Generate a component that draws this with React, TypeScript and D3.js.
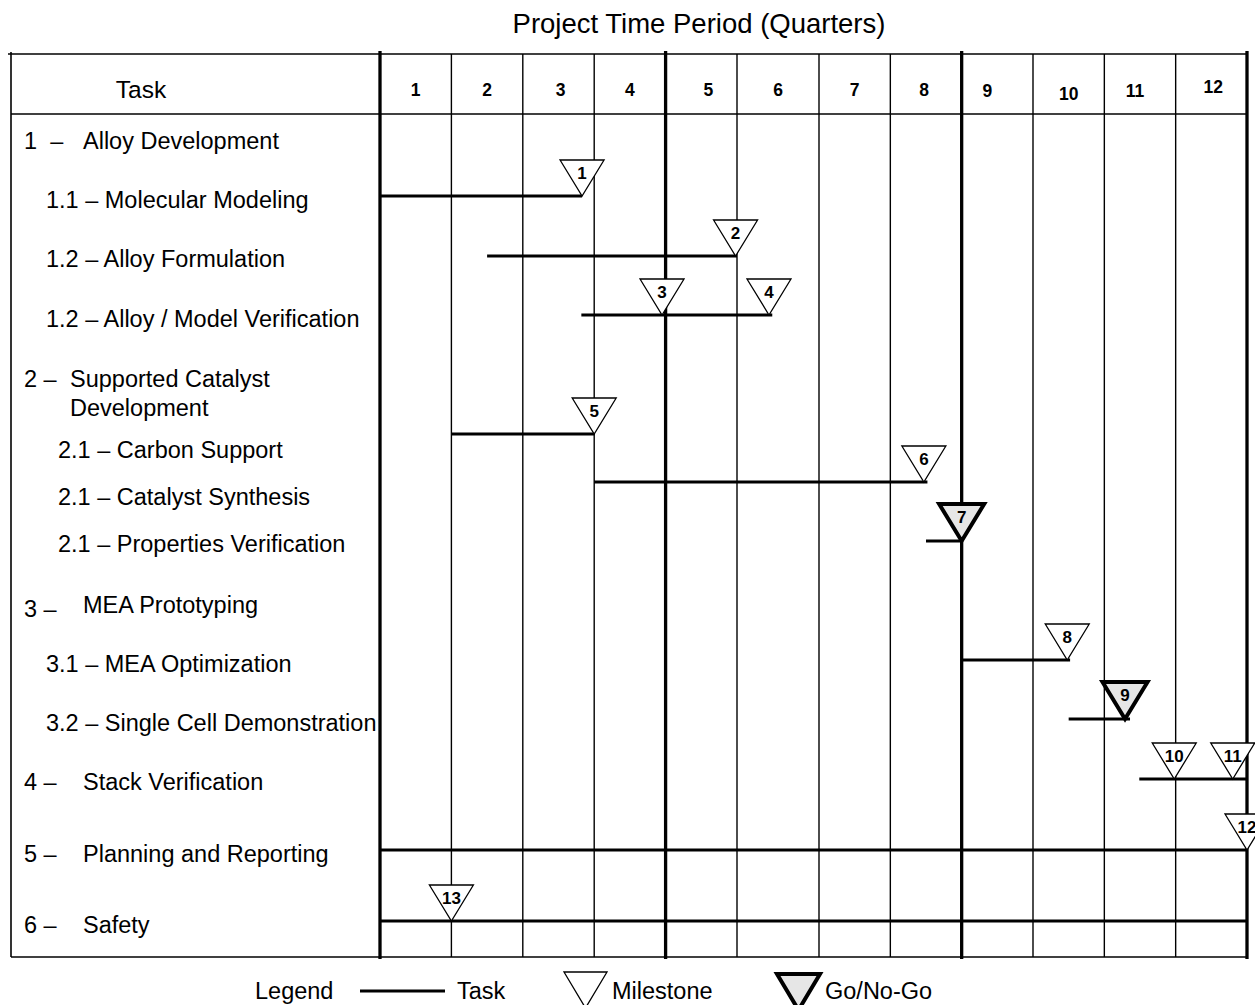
import React from "react";
import * as d3 from "d3";

// ---- Data ----------------------------------------------------------------
const quarters = d3.range(1, 13);
const quarterLabels = quarters.map(String);

// Work breakdown rows shown in the task column
const rowKeys = ["1", "1.1", "1.2a", "1.2b", "2", "2.1a", "2.1b", "2.1c", "3", "3.1", "3.2", "4", "5", "6"];
const rowPrefixes = ["1  –", "1.1 – ", "1.2 – ", "1.2 – ", "2 –", "2.1 – ", "2.1 – ", "2.1 – ", "3 –", "3.1 – ", "3.2 – ", "4 –", "5 –", "6 –"];
const rowTitles = [
  "Alloy Development",
  "Molecular Modeling",
  "Alloy Formulation",
  "Alloy / Model Verification",
  "Supported Catalyst\nDevelopment",
  "Carbon Support",
  "Catalyst Synthesis",
  "Properties Verification",
  "MEA Prototyping",
  "MEA Optimization",
  "Single Cell Demonstration",
  "Stack Verification",
  "Planning and Reporting",
  "Safety",
];

// Task bars: row, start quarter, end quarter
const taskRows = ["1.1", "1.2a", "1.2b", "2.1a", "2.1b", "2.1c", "3.1", "3.2", "4", "5", "6"];
const taskStart = [0, 1.5, 2.82, 1.0, 3.0, 7.5, 8.0, 9.5, 10.49, 0, 0];
const taskEnd = [2.83, 5.0, 5.43, 3.0, 7.52, 8.0, 9.52, 10.36, 12, 12, 12];

// Milestones: number, row, quarter, go/no-go decision
const milestoneIds = [1, 2, 3, 4, 5, 6, 7, 8, 9, 10, 11, 12, 13];
const milestoneRows = ["1.1", "1.2a", "1.2b", "1.2b", "2.1a", "2.1b", "2.1c", "3.1", "3.2", "4", "4", "5", "6"];
const milestoneQuarter = [2.83, 4.98, 3.95, 5.39, 3.0, 7.47, 8.0, 9.48, 10.29, 10.98, 11.8, 12, 1.0];
const milestoneGo = [false, false, false, false, false, false, true, false, true, false, false, false, false];

// ---- Layout ----------------------------------------------------------------
const W = 1255;
const H = 1005;
const FONT = "'Liberation Sans', Arial, Helvetica, sans-serif";
const LABEL_SIZE = 23.5;
const tableLeft = 11;
const tableTop = 54;
const headerBottom = 114;
const tableBottom = 957;

// quarter axis (column 6 is drawn a little wider)
const x = d3.scaleLinear().domain([0, 5, 6, 12]).range([380, 737, 819, 1247]);

// baselines for the task-column text
const rowBaseline = d3.scaleOrdinal<string, number>()
  .domain(rowKeys)
  .range([149, 208, 267, 327, 387, 458, 505, 552, 613, 672, 731, 790, 862, 933]);
// vertical lane of each task bar
const barLane = d3.scaleOrdinal<string, number>()
  .domain(taskRows)
  .range([196, 256, 315, 434, 482, 541, 660, 719, 779, 850, 921]);

const headerNudge: [number, number][] = [
  [0, 0], [0, 0], [2, 0], [0, 0], [7, 0], [0, 0], [0, 0], [-2, 0], [-10, 1], [0, 4], [-5, 1], [2, -3],
];

const MS_W = 44;
const MS_H = 36;

function triangle(cx: number, tipY: number, w: number, h: number) {
  const path = d3.path();
  path.moveTo(cx - w / 2, tipY - h);
  path.lineTo(cx + w / 2, tipY - h);
  path.lineTo(cx, tipY);
  path.closePath();
  return path.toString();
}

function Milestone({ cx, tip, id, go }: { cx: number; tip: number; id: number; go: boolean }) {
  const w = go ? 45 : MS_W;
  const h = go ? 37 : MS_H;
  return (
    <g>
      <path
        d={triangle(cx, tip, w, h)}
        fill={go ? "#e6e6e6" : "#ffffff"}
        stroke="#000"
        strokeWidth={go ? 4 : 1.3}
        strokeLinejoin="miter"
      />
      <text
        x={cx}
        y={tip - h + 19}
        textAnchor="middle"
        fontFamily={FONT}
        fontWeight="bold"
        fontSize={17}
        fill="#000"
      >
        {id}
      </text>
    </g>
  );
}

export default function App() {
  const bounds = d3.range(0, 13);
  const subX = (k: string) => (k.startsWith("2.") ? 58 : 46);
  return (
    <svg
      width={W}
      height={H}
      viewBox={`0 0 ${W} ${H}`}
      style={{ position: "absolute", left: 0, top: 0, background: "#fff" }}
    >
      <rect x={0} y={0} width={W} height={H} fill="#fff" />

      {/* title */}
      <text x={699} y={33} textAnchor="middle" fontFamily={FONT} fontSize={27.5} fill="#000">
        Project Time Period (Quarters)
      </text>

      {/* table frame */}
      <g stroke="#000" fill="none">
        <line x1={tableLeft - 3} x2={x(12)} y1={tableTop} y2={tableTop} strokeWidth={1.6} />
        <line x1={tableLeft} x2={x(12)} y1={headerBottom} y2={headerBottom} strokeWidth={1.6} />
        <line x1={tableLeft} x2={x(12)} y1={tableBottom} y2={tableBottom} strokeWidth={1.6} />
        <line x1={tableLeft} x2={tableLeft} y1={tableTop - 2} y2={tableBottom} strokeWidth={1.6} />
        {bounds.map((b) => {
          const thick = b % 4 === 0;
          return (
            <line
              key={b}
              x1={x(b)}
              x2={x(b)}
              y1={thick ? tableTop - 3 : tableTop}
              y2={thick ? tableBottom + 2 : tableBottom}
              strokeWidth={thick ? 3.3 : 1.4}
            />
          );
        })}
      </g>

      {/* header */}
      <text x={141} y={98} textAnchor="middle" fontFamily={FONT} fontSize={24.5} fill="#000">
        Task
      </text>
      {quarterLabels.map((q, i) => (
        <text
          key={q}
          x={(x(i) + x(i + 1)) / 2 + headerNudge[i][0]}
          y={96 + headerNudge[i][1]}
          textAnchor="middle"
          fontFamily={FONT}
          fontWeight="bold"
          fontSize={17.5}
          fill="#000"
        >
          {q}
        </text>
      ))}

      {/* task column */}
      {rowKeys.map((k, i) => {
        const top = !k.includes(".");
        const y = rowBaseline(k);
        const lines = rowTitles[i].split("\n");
        if (top) {
          const titleX = k === "2" ? 70 : 83;
          return (
            <g key={k} fontFamily={FONT} fontSize={LABEL_SIZE} fill="#000">
              <text x={24} y={k === "3" ? y + 4 : y} style={{ whiteSpace: "pre" }}>
                {rowPrefixes[i]}
              </text>
              {lines.map((ln, j) => (
                <text key={j} x={titleX} y={y + j * 29}>
                  {ln}
                </text>
              ))}
            </g>
          );
        }
        return (
          <text
            key={k}
            x={subX(k)}
            y={y}
            fontFamily={FONT}
            fontSize={LABEL_SIZE}
            fill="#000"
            style={{ whiteSpace: "pre" }}
          >
            {rowPrefixes[i] + rowTitles[i]}
          </text>
        );
      })}

      {/* task bars */}
      <g stroke="#000" strokeWidth={3.2}>
        {taskRows.map((r, i) => (
          <line key={r} x1={x(taskStart[i])} x2={x(taskEnd[i])} y1={barLane(r)} y2={barLane(r)} />
        ))}
      </g>

      {/* milestones */}
      {milestoneIds.map((id, i) => (
        <Milestone
          key={id}
          id={id}
          cx={x(milestoneQuarter[i])}
          tip={barLane(milestoneRows[i])}
          go={milestoneGo[i]}
        />
      ))}

      {/* legend */}
      <g fontFamily={FONT} fontSize={LABEL_SIZE} fill="#000">
        <text x={255} y={999}>Legend</text>
        <line x1={360} x2={445} y1={991} y2={991} stroke="#000" strokeWidth={3.2} />
        <text x={457} y={999}>Task</text>
        <path d={triangle(585.5, 1008, 43, 36)} fill="#fff" stroke="#000" strokeWidth={1.3} />
        <text x={612} y={999}>Milestone</text>
        <path d={triangle(798.5, 1010, 43, 36)} fill="#e6e6e6" stroke="#000" strokeWidth={4} />
        <text x={825} y={999}>Go/No-Go</text>
      </g>
    </svg>
  );
}
